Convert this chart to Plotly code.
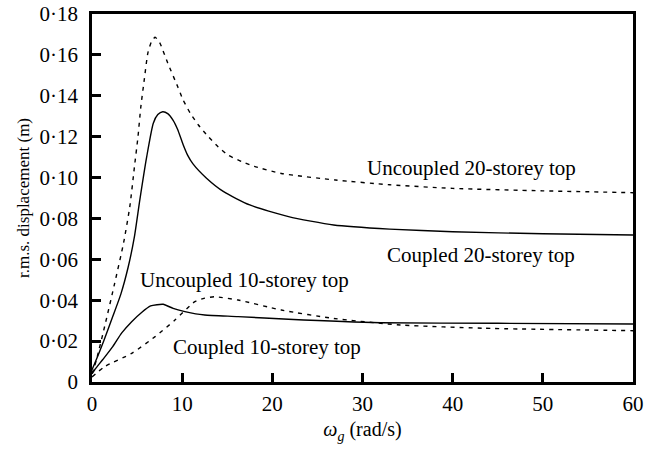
import plotly.graph_objects as go

# Excitation frequency (rad/s) and r.m.s. top displacement (m) for each case
w_unc20 = [0, 0.5, 1.5, 2.5, 3.5, 4.2, 4.7, 5.1, 5.4, 5.8, 6.2, 6.6, 7.0, 7.5, 8.4, 9.5,
           10.1, 10.9, 11.8, 12.9, 14.0, 15.1, 16.6, 18, 21, 27, 33, 40, 50, 60]
d_unc20 = [0.004, 0.011, 0.029, 0.048, 0.068, 0.086, 0.105, 0.120, 0.134, 0.148, 0.161,
           0.1665, 0.1686, 0.166, 0.156, 0.1445, 0.138, 0.1315, 0.1257, 0.120, 0.115,
           0.111, 0.1078, 0.1055, 0.102, 0.0988, 0.0965, 0.0947, 0.0935, 0.0926]

w_cpl20 = [0, 0.3, 1.3, 2.3, 3.2, 4.0, 4.7, 5.3, 6.06, 6.8, 7.3, 7.84, 8.4, 9.0, 9.5, 10.1,
           10.6, 11.2, 12.7, 14.6, 17.5, 21.8, 26.8, 33, 40, 50, 60]
d_cpl20 = [0.006, 0.009, 0.020, 0.032, 0.043, 0.056, 0.071, 0.089, 0.110, 0.1266, 0.1308,
           0.1322, 0.1313, 0.128, 0.1235, 0.1162, 0.111, 0.1067, 0.0997, 0.0931, 0.0866,
           0.0809, 0.0768, 0.0748, 0.0735, 0.0725, 0.0719]

w_unc10 = [0, 0.3, 1.2, 2.3, 3.3, 4.4, 5.5, 6.5, 7.2, 7.9, 9.0, 10.3, 11.5, 12.5, 16.2,
           21.8, 32, 45, 60]
d_unc10 = [0.004, 0.006, 0.011, 0.0173, 0.024, 0.0295, 0.034, 0.0372, 0.0378, 0.038,
           0.036, 0.0344, 0.0333, 0.0328, 0.032, 0.0307, 0.029, 0.0287, 0.0284]

w_cpl10 = [0, 1.4, 4.4, 7.0, 9.2, 11.4, 12.5, 13.6, 16.2, 21, 26.8, 34.2, 43.4, 60]
d_cpl10 = [0.0025, 0.0075, 0.014, 0.0222, 0.0303, 0.0393, 0.041, 0.0417, 0.0401,
           0.0352, 0.0311, 0.0279, 0.0263, 0.0251]

y_ticks = [0, 0.02, 0.04, 0.06, 0.08, 0.10, 0.12, 0.14, 0.16, 0.18]
y_tick_text = ["0", "0·02", "0·04", "0·06", "0·08", "0·10", "0·12", "0·14", "0·16", "0·18"]
x_ticks = [0, 10, 20, 30, 40, 50, 60]

# Curve labels: (text, x, y)
labels = [
    ("Uncoupled 20-storey top", 42.1, 0.1047),
    ("Coupled 20-storey top", 43.1, 0.0621),
    ("Uncoupled 10-storey top", 16.9, 0.0499),
    ("Coupled 10-storey top", 19.4, 0.0173),
]

FONT = "Liberation Serif"
dash = "4px,5px"

fig = go.Figure()
series = [
    (w_unc20, d_unc20, dash),
    (w_cpl20, d_cpl20, "solid"),
    (w_unc10, d_unc10, "solid"),
    (w_cpl10, d_cpl10, dash),
]
for xs, ys, ds in series:
    fig.add_trace(go.Scatter(
        x=xs, y=ys, mode="lines",
        line=dict(color="black", width=1.4, dash=ds, shape="spline", smoothing=0.6),
        showlegend=False, hoverinfo="skip",
    ))

for text, x, y in labels:
    fig.add_annotation(x=x, y=y, text=text, showarrow=False,
                       font=dict(family=FONT, size=21, color="black"))

axis_common = dict(
    ticks="inside", ticklen=9, tickwidth=2.5, tickcolor="black",
    showline=True, linewidth=2.5, linecolor="black", mirror=True,
    showgrid=False, zeroline=False, automargin=False,
    tickfont=dict(family=FONT, size=21),
)

fig.update_layout(
    width=646, height=452,
    margin=dict(l=92, r=13, t=14, b=70, autoexpand=False),
    paper_bgcolor="white", plot_bgcolor="white",
    font=dict(family=FONT, size=20, color="black"),
    xaxis=dict(
        range=[0, 60], tickvals=x_ticks, ticklabelstandoff=1,
        title=dict(text="<i>ω</i><sub><i>g</i></sub> (rad/s)", standoff=8,
                   font=dict(family=FONT, size=20)),
        **axis_common,
    ),
    yaxis=dict(
        range=[0, 0.18], tickvals=y_ticks, ticktext=y_tick_text, ticklabelstandoff=7,
        title=dict(text="r.m.s. displacement (m)", standoff=6,
                   font=dict(family=FONT, size=17)),
        **axis_common,
    ),
)

fig.write_html("out.html")
